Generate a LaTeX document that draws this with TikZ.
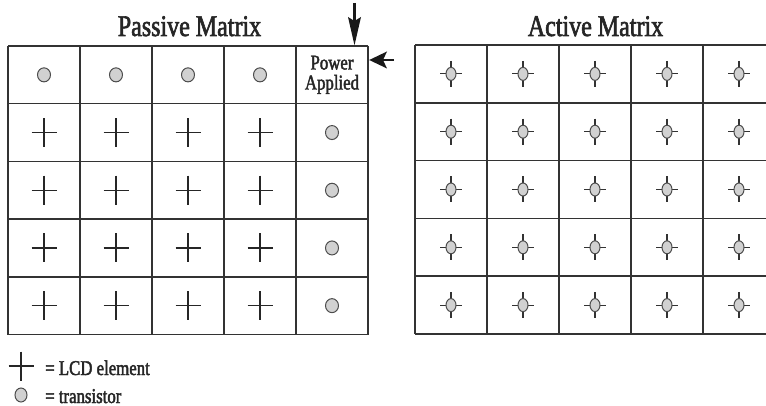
\documentclass[tikz,border=0pt]{standalone}
\usepackage{fontspec}
\setmainfont{Liberation Serif}[FakeStretch=0.8,FakeBold=2]
\tikzset{
  gridline/.style={line width=1.5pt, draw=black!80},
  dotstyle/.style={fill=black!18, draw=black!70, line width=1pt},
  crossline/.style={line width=1.3pt, draw=black!85},
  tickline/.style={line width=1.2pt, draw=black!80},
  shaft/.style={line width=2.2pt, draw=black!90},
  headfill/.style={fill=black!90},
  title/.style={anchor=base, inner sep=0pt, font=\fontsize{30}{30}\selectfont, text=black!85},
  legtext/.style={anchor=base west, inner sep=0pt, font=\fontsize{21}{21}\selectfont, text=black!85},
  crosspic/.pic={\draw[crossline] (-12.5,0) -- (12.5,0) (0,-14.5) -- (0,14.5);},
  dotpic/.pic={\filldraw[dotstyle] (0,0) ellipse (6.5 and 7);},
  actpic/.pic={\draw[tickline] (-11,0) -- (11,0) (0,-13) -- (0,13);
               \filldraw[dotstyle] (0,0) ellipse (5 and 6.5);}
}
\begin{document}
\begin{tikzpicture}[x=1pt,y=-1pt]
\useasboundingbox (0,0) rectangle (766,406);
\fill[white] (0,0) rectangle (766,406);

% titles
\node[title] (ptitle) at (189.5,36) {Passive Matrix};
\node[title] (atitle) at (595.5,36) {Active Matrix};

% passive grid
\foreach \x in {8,80,152,224,296,368} \draw[gridline] (\x,46) -- (\x,334.5);
\foreach \y in {46,103.7,161.4,219.1,276.8,334.5} \draw[gridline] (8,\y) -- (368,\y);

% passive contents
\foreach \x in {44,116,188,260} \pic at (\x,74.85) {dotpic};
\foreach \y in {132.55,190.25,247.95,305.65} {
  \foreach \x in {44,116,188,260} \pic at (\x,\y) {crosspic};
  \pic at (332,\y) {dotpic};
}
\node[inner sep=0pt, minimum width=72pt, minimum height=57.7pt, align=center,
      font=\fontsize{21}{20}\selectfont, text=black!85] (power) at (332,74.85) {Power\\Applied};

% arrows
\coordinate (dstart) at (354.5,3);
\coordinate (lstart) at (394,60);
\path (dstart |- power.north) ++(0,-0.5) coordinate (dtip);
\path (lstart -| power.east) ++(1,0) coordinate (ltip);
\draw[shaft] (dstart) -- (354.5,30);
\fill[headfill] (dtip) -- (348,17) -- (354.5,21) -- (361,17) -- cycle;
\draw[shaft] (lstart) -- (382,60);
\fill[headfill] (ltip) -- (387,51.5) -- (383,60) -- (387,68.5) -- cycle;

% active grid
\foreach \x in {415,487,559,631,703} \draw[gridline] (\x,45) -- (\x,334);
\foreach \y in {45,102.8,160.6,218.4,276.2,334} \draw[gridline] (415,\y) -- (766,\y);
\foreach \y in {73.9,131.7,189.5,247.3,305.1}
  \foreach \x in {451,523,595,667,739} \pic at (\x,\y) {actpic};

% legend
\pic at (21,366) {crosspic};
\node[legtext] (leg1) at (45,375) {= LCD element};
\filldraw[dotstyle] (21,395) ellipse (6 and 7);
\node[legtext] (leg2) at (45,403) {= transistor};
\end{tikzpicture}
\end{document}
